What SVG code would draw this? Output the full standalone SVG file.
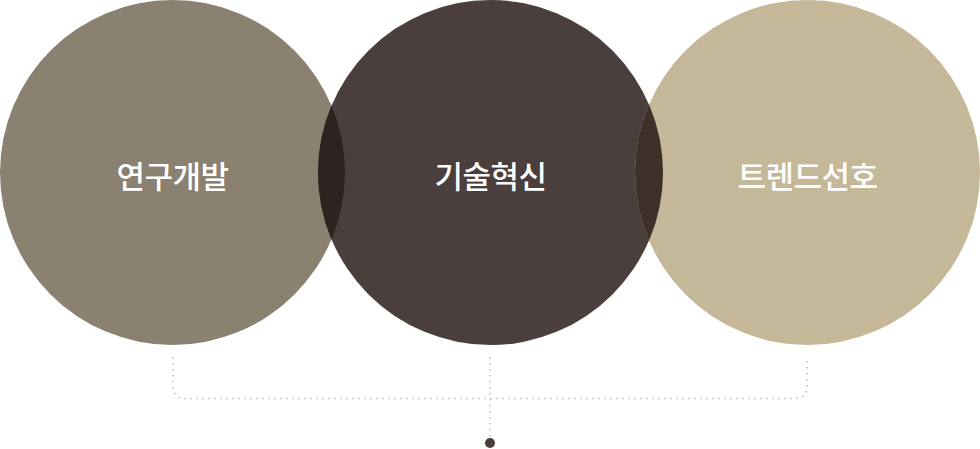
<svg xmlns="http://www.w3.org/2000/svg" width="980" height="449" viewBox="0 0 980 449">
<style>
.lbl{font-family:"Noto Sans CJK KR","Noto Sans",sans-serif;font-size:31px;font-weight:500;fill:#ffffff;text-anchor:middle;letter-spacing:-0.5px}
.dot{fill:none;stroke:#b9b9b9;stroke-width:1.5;stroke-dasharray:1.5 4.5}
</style>
<defs>
<clipPath id="cL"><circle cx="172.5" cy="172.5" r="172.5"/></clipPath>
<clipPath id="cR"><circle cx="807.5" cy="172.5" r="172.5"/></clipPath>
</defs>
<g id="node-research">
<circle cx="172.5" cy="172.5" r="172.5" fill="#8a8170"/>
</g>
<g id="node-tech">
<circle cx="490.5" cy="172.5" r="172.5" fill="#4a3f3c"/>
</g>
<g id="node-trend">
<circle cx="807.5" cy="172.5" r="172.5" fill="#c5b898"/>
</g>
<g id="overlaps">
<circle cx="490.5" cy="172.5" r="172.5" fill="#2c2420" clip-path="url(#cL)"/>
<circle cx="490.5" cy="172.5" r="172.5" fill="#3c3028" clip-path="url(#cR)"/>
</g>
<g id="labels">
<text class="lbl" x="172.5" y="188">연구개발</text>
<text class="lbl" x="490.5" y="188">기술혁신</text>
<text class="lbl" x="807.5" y="188">트렌드선호</text>
</g>
<g id="connectors">
<path class="dot" d="M173 357 V386 Q173 398.5 185.5 398.5 H795 Q807 398.5 807 386 V357"/>
<path class="dot" d="M490 357 V437"/>
<circle cx="490" cy="443" r="5" fill="#4a3f3c"/>
</g>
</svg>
